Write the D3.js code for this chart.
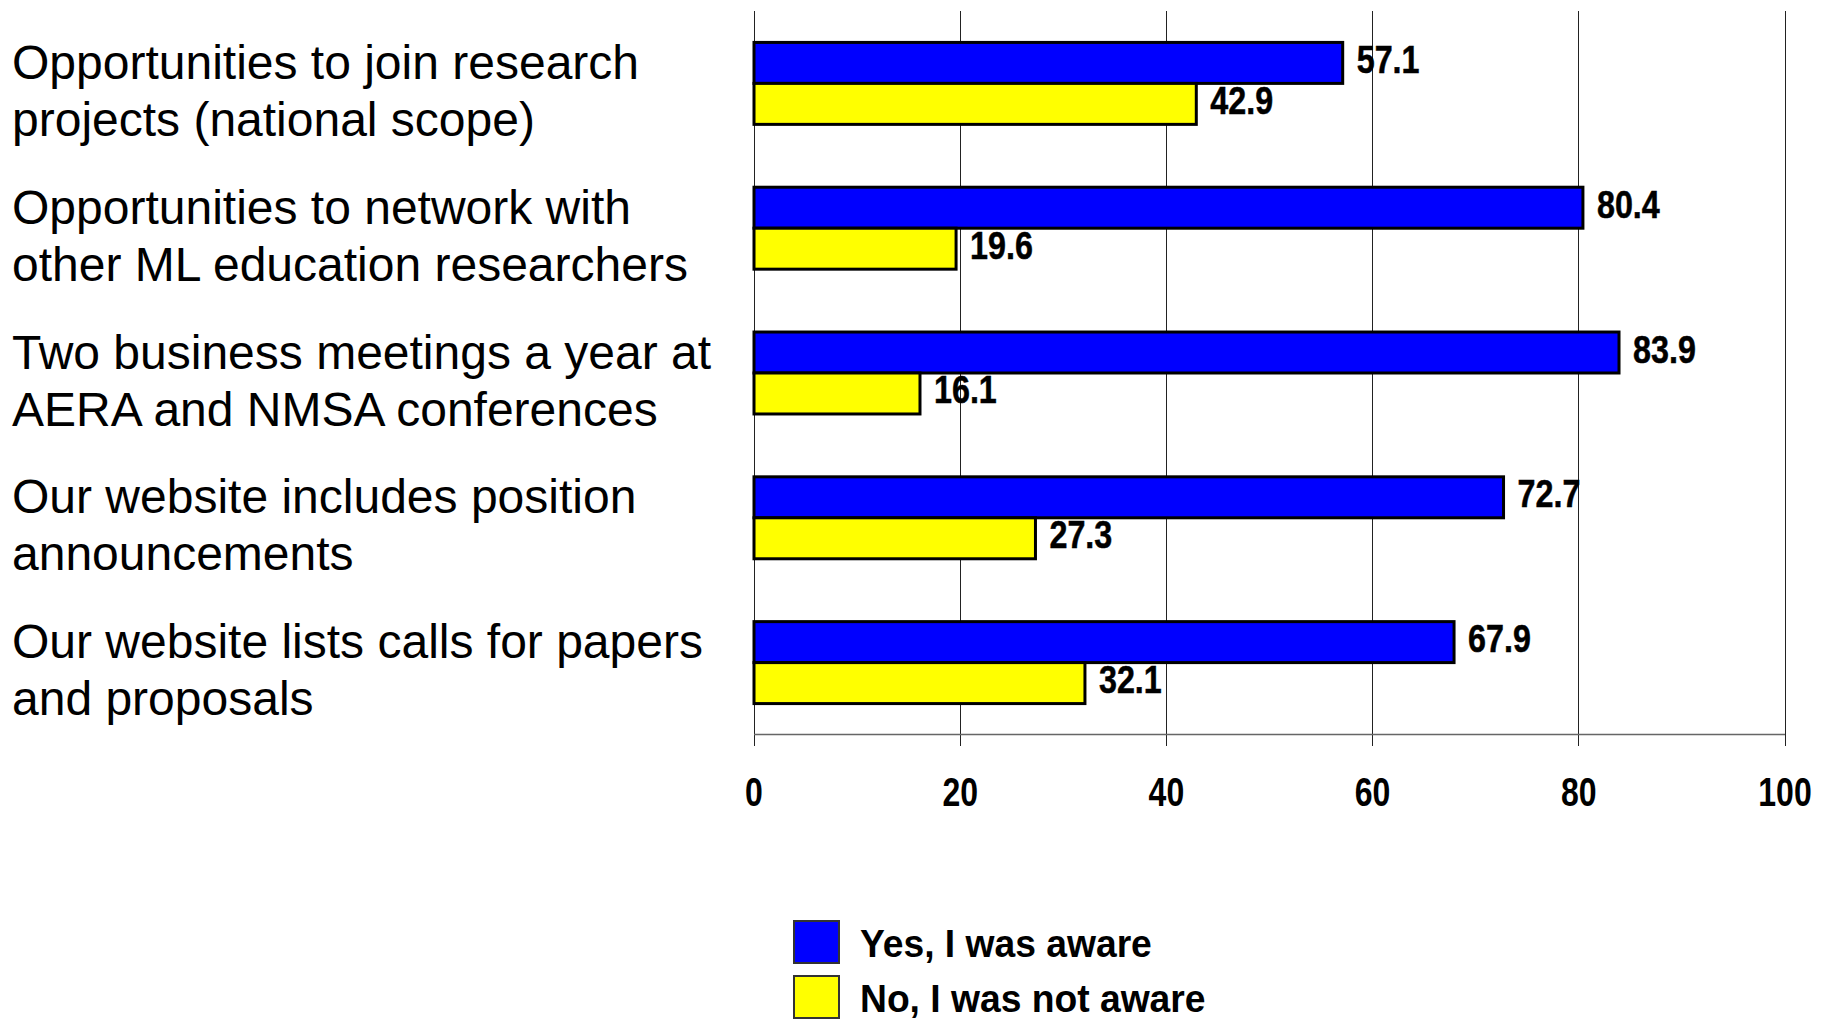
<!DOCTYPE html>
<html>
<head>
<meta charset="utf-8">
<script src="https://cdn.jsdelivr.net/npm/d3@7"></script>
<style>
  html, body { margin: 0; padding: 0; background: #fff; }
  svg { display: block; font-family: "Liberation Sans", Arial, sans-serif; }
</style>
</head>
<body>
<script>
const categoryLines = [
  ["Opportunities to join research", "projects (national scope)"],
  ["Opportunities to network with", "other ML education researchers"],
  ["Two business meetings a year at", "AERA and NMSA conferences"],
  ["Our website includes position", "announcements"],
  ["Our website lists calls for papers", "and proposals"]
];
const categories = categoryLines.map(d => d.join(" "));
const seriesNames = ["Yes, I was aware", "No, I was not aware"];
const yesValues = [57.1, 80.4, 83.9, 72.7, 67.9];
const noValues = [42.9, 19.6, 16.1, 27.3, 32.1];
const tickValues = [0, 20, 40, 60, 80, 100];
const seriesColors = ["#0000FF", "#FFFF00"];

const W = 1825, H = 1019;
const svg = d3.select("body").append("svg").attr("width", W).attr("height", H);

const x = d3.scaleLinear().domain([0, 100]).range([754, 1785]);
const y = d3.scaleBand().domain(categories).range([11, 735]).paddingInner(0.434).paddingOuter(0.217);
const sub = d3.scaleBand().domain(seriesNames).range([0, y.bandwidth()]);

// gridlines (extend through tick marks)
svg.append("g").selectAll("line").data(tickValues).join("line")
  .attr("x1", d => x(d)).attr("x2", d => x(d))
  .attr("y1", 11).attr("y2", 746)
  .attr("stroke", "#222").attr("stroke-width", 1)
  .attr("shape-rendering", "crispEdges");

// bottom axis line
svg.append("line")
  .attr("x1", x(0)).attr("x2", x(100)).attr("y1", 734.5).attr("y2", 734.5)
  .attr("stroke", "#666").attr("stroke-width", 1.5);

// tick labels
svg.append("g").selectAll("text").data(tickValues).join("text")
  .attr("transform", d => `translate(${x(d)},806) scale(0.8,1)`)
  .attr("text-anchor", "middle")
  .attr("font-weight", "bold").attr("font-size", 40)
  .text(d => d);

// bars
const data = categories.map((c, i) => ({ c, vals: [yesValues[i], noValues[i]] }));
const groups = svg.append("g").selectAll("g").data(data).join("g")
  .attr("transform", d => `translate(0,${y(d.c)})`);

groups.selectAll("rect").data(d => d.vals.map((v, j) => ({ v, j }))).join("rect")
  .attr("x", x(0))
  .attr("y", d => sub(seriesNames[d.j]))
  .attr("width", d => x(d.v) - x(0))
  .attr("height", sub.bandwidth())
  .attr("fill", d => seriesColors[d.j])
  .attr("stroke", "#000").attr("stroke-width", 3);

groups.selectAll("text.val").data(d => d.vals.map((v, j) => ({ v, j }))).join("text")
  .attr("class", "val")
  .attr("transform", d => `translate(${x(d.v) + 14},${sub(seriesNames[d.j]) + sub.bandwidth() / 2 + 10}) scale(0.85,1)`)
  .attr("font-weight", "bold").attr("font-size", 38)
  .attr("stroke", "#000").attr("stroke-width", 0.5)
  .text(d => d.v.toFixed(1));

// category labels
const lab = svg.append("g").selectAll("text").data(categoryLines).join("text")
  .attr("font-size", 48).attr("fill", "#000");
lab.each(function(lines, i) {
  const cy = y(categories[i]) + y.bandwidth() / 2;
  d3.select(this).selectAll("tspan").data(lines).join("tspan")
    .attr("x", 12)
    .attr("y", (d, k) => cy - 4.5 + k * 57)
    .text(d => d);
});

// legend
const leg = svg.append("g").selectAll("g").data(seriesNames).join("g")
  .attr("transform", (d, i) => `translate(794,${921 + i * 55})`);
leg.append("rect")
  .attr("width", 45).attr("height", 42)
  .attr("fill", (d, i) => seriesColors[i])
  .attr("stroke", "#333").attr("stroke-width", 2);
leg.append("text")
  .attr("transform", "translate(66,36) scale(0.98,1)")
  .attr("font-weight", "bold").attr("font-size", 38)
  .text(d => d);
</script>
</body>
</html>
